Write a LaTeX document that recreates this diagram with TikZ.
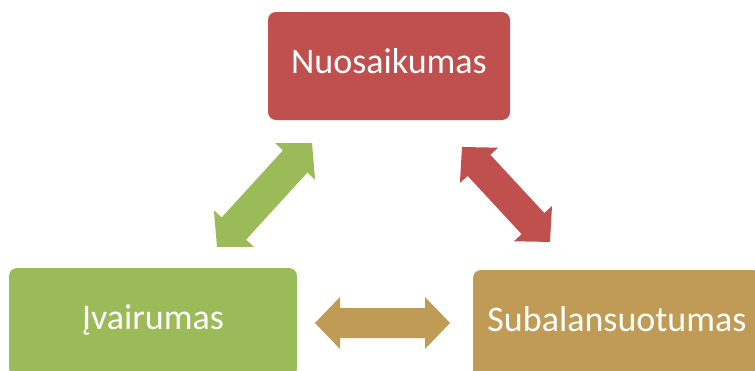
\documentclass[tikz,border=0pt]{standalone}
\usepackage{fontspec}
\setmainfont{Carlito}
\usetikzlibrary{calc}
\definecolor{cred}{HTML}{C0504D}
\definecolor{cgreen}{HTML}{9BBB59}
\definecolor{cgold}{HTML}{BF9B55}
\tikzset{
  box/.style={rectangle, rounded corners=8pt, inner sep=0pt, text=white,
    font=\fontsize{36}{43}\selectfont, text height=24pt, text depth=10pt,
    minimum height=108pt}
}
% double block arrow from tip #1 to tip #2, colour #3, shaft half width #4, head half width #5
\newcommand\dblblockarrow[5]{%
  \path let \p1=($(#2)-(#1)$) in \pgfextra{%
    \pgfmathsetmacro\myang{atan2(\y1,\x1)}%
    \pgfmathsetmacro\mylen{veclen(\x1,\y1)}%
    \xdef\myangG{\myang}\xdef\mylenG{\mylen}};
  \fill[#3, shift={(#1)}, rotate=\myangG]
    (0,0) -- (25,#5) -- (25,#4) -- (\mylenG-25,#4) -- (\mylenG-25,#5)
    -- (\mylenG,0) -- (\mylenG-25,-#5) -- (\mylenG-25,-#4) -- (25,-#4)
    -- (25,-#5) -- cycle;
}
\begin{document}
\begin{tikzpicture}[x=1pt,y=-1pt]
\useasboundingbox (0,0) rectangle (755,370);
\clip (0,0) rectangle (755,370);
\node[box, fill=cred, minimum width=242pt] (n) at (389,66) {Nuosaikumas};
\node[box, fill=cgreen, minimum width=288pt] (v) at (153,322) {Įvairumas};
\node[box, fill=cgold, minimum width=288pt] (s) at (617,324) {Subalansuotumas};
\coordinate (g1) at (312,143);
\coordinate (g2) at (217,247);
\coordinate (r1) at (462,147);
\coordinate (r2) at (550,242);
\coordinate (b1) at (315,323);
\coordinate (b2) at (450,323);
\dblblockarrow{g1}{g2}{cgreen}{16.5}{27}
\dblblockarrow{r1}{r2}{cred}{15.5}{26}
\dblblockarrow{b1}{b2}{cgold}{15}{26}
\end{tikzpicture}
\end{document}
